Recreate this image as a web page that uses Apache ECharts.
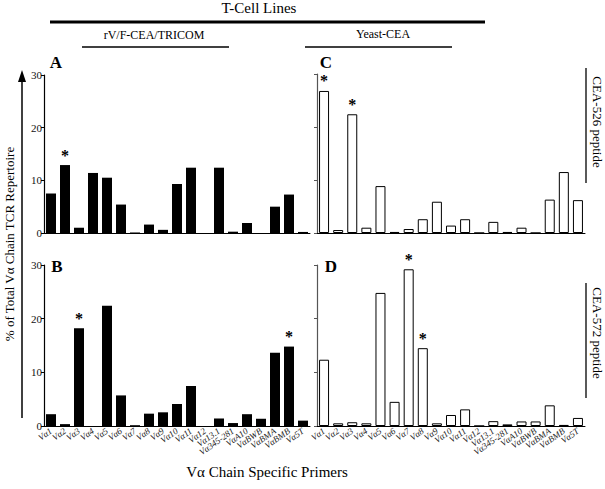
<!DOCTYPE html>
<html><head><meta charset="utf-8">
<script src="https://cdn.jsdelivr.net/npm/echarts@6/dist/echarts.min.js"></script>
<style>html,body{margin:0;padding:0;background:#fff}#c{width:605px;height:489px}</style>
</head><body><div id="c"></div>
<script>
const categories = ["Vα1","Vα2","Vα3","Vα4","Vα5","Vα6","Vα7","Vα8","Vα9","Vα10","Vα11","Vα12","Vα13.1","Vα345-281","VαA10","VαBWB","VαBMA","VαBMB","Vα5T"];
const panelA = [7.5,12.9,1.0,11.4,10.5,5.4,0.1,1.6,0.6,9.3,12.4,0,12.4,0.25,1.9,0,5.0,7.3,0.2];
const panelB = [2.2,0.35,18.2,0,22.4,5.7,0.15,2.3,2.55,4.1,7.45,0,1.4,0.55,2.2,1.35,13.65,14.8,1.0];
const panelC = [26.8,0.56,22.4,1.0,8.85,0.2,0.75,2.6,5.9,1.4,2.6,0,2.1,0.2,1.0,0,6.3,11.5,6.2];
const panelD = [12.35,0.5,0.7,0.5,24.8,4.5,29.2,14.5,0.5,2.05,3.1,0,0.9,0.3,0.85,0.85,3.85,0.2,1.5];
const starsA = ["Vα2"];
const starsB = ["Vα3","VαBMB"];
const starsC = ["Vα1","Vα3"];
const starsD = ["Vα7","Vα8"];
const yTicks = [0,10,20,30];

const serif = '"Liberation Serif","DejaVu Serif",serif';
const chart = echarts.init(document.getElementById('c'), null, {renderer:'svg'});

const grids = [
  {left:44, top:75, width:266, height:158},
  {left:44, top:265, width:266, height:161},
  {left:317, top:74, width:268, height:159},
  {left:317, top:265, width:268, height:161}
];
function xAx(i, showLabels){
  return {type:'category', gridIndex:i, data:categories,
    axisLine:{lineStyle:{color:'#000', width:1}},
    axisTick:{alignWithLabel:true, length:3, lineStyle:{color:'#000'}},
    axisLabel:{show:showLabels, rotate:35, fontSize:9, fontFamily:serif, fontStyle:'italic', color:'#222', margin:4, interval:0}
  };
}
function yAx(i, showLabels, color){
  return {type:'value', gridIndex:i, min:0, max:30, interval:10,
    splitLine:{show:false},
    axisLine:{show:true, lineStyle:{color:color, width:1.2}},
    axisTick:{show:true, length:3, lineStyle:{color:color}},
    axisLabel:{show:showLabels, fontSize:11, fontFamily:serif, color:'#111', margin:2,
      formatter: v => yTicks.includes(v) ? String(v) : ''}
  };
}
function ser(i, data, stars, filled){
  return {type:'bar', xAxisIndex:i, yAxisIndex:i, data:data, barWidth:10,
    itemStyle: filled ? {color:'#000'} : {color:'#fff', borderColor:'#000', borderWidth:1},
    label:{show:true, position:'top', distance:2, fontSize:16, fontWeight:'bold', fontFamily:serif, color:'#000',
      formatter: p => stars.includes(p.name) ? '*' : ''},
    silent:true, animation:false
  };
}
const T = (text, x, y, size, opts={}) => Object.assign({type:'text', x:x, y:y,
  style:{text:text, font:(opts.bold?'bold ':'')+size+'px '+serif, fill:'#000', textAlign:opts.align||'center', textVerticalAlign:'middle'}},
  opts.rot!==undefined?{rotation:opts.rot}:{});

chart.setOption({
  animation:false,
  grid: grids,
  xAxis:[xAx(0,false), xAx(1,true), xAx(2,false), xAx(3,true)],
  yAxis:[yAx(0,true,'#000'), yAx(1,true,'#000'), yAx(2,false,'#555'), yAx(3,false,'#555')],
  series:[ser(0,panelA,starsA,true), ser(1,panelB,starsB,true), ser(2,panelC,starsC,false), ser(3,panelD,starsD,false)],
  graphic:[
    T('T-Cell Lines', 259, 8, 15),
    {type:'line', shape:{x1:50,y1:22,x2:485,y2:22}, style:{stroke:'#000', lineWidth:3}},
    T('rV/F-CEA/TRICOM', 154, 35, 12),
    {type:'line', shape:{x1:82,y1:47,x2:229,y2:47}, style:{stroke:'#000', lineWidth:1.3}},
    T('Yeast-CEA', 383, 34, 12),
    {type:'line', shape:{x1:305,y1:47,x2:452,y2:47}, style:{stroke:'#000', lineWidth:1.3}},
    T('A', 56, 62, 17, {bold:true}),
    T('C', 326, 62, 17, {bold:true}),
    T('B', 57, 266, 17, {bold:true}),
    T('D', 331, 266, 17, {bold:true}),
    {type:'line', shape:{x1:586,y1:68,x2:586,y2:183}, style:{stroke:'#000', lineWidth:1.3}},
    {type:'text', x:597, y:122, rotation:-Math.PI/2, style:{text:'CEA-526 peptide', font:'13px '+serif, fill:'#000', textAlign:'center', textVerticalAlign:'middle'}},
    {type:'line', shape:{x1:586,y1:283,x2:586,y2:398}, style:{stroke:'#000', lineWidth:1.3}},
    {type:'text', x:597, y:333, rotation:-Math.PI/2, style:{text:'CEA-572 peptide', font:'13px '+serif, fill:'#000', textAlign:'center', textVerticalAlign:'middle'}},
    {type:'line', shape:{x1:22,y1:80,x2:22,y2:418}, style:{stroke:'#000', lineWidth:1.5}},
    {type:'polygon', shape:{points:[[22,70],[18,82],[26,82]]}, style:{fill:'#000'}},
    {type:'text', x:9, y:244, rotation:Math.PI/2, style:{text:'% of Total Vα Chain TCR Repertoire', font:'13px '+serif, fill:'#000', textAlign:'center', textVerticalAlign:'middle'}},
    T('Vα Chain Specific Primers', 267, 472, 15)
  ]
});
</script></body></html>
